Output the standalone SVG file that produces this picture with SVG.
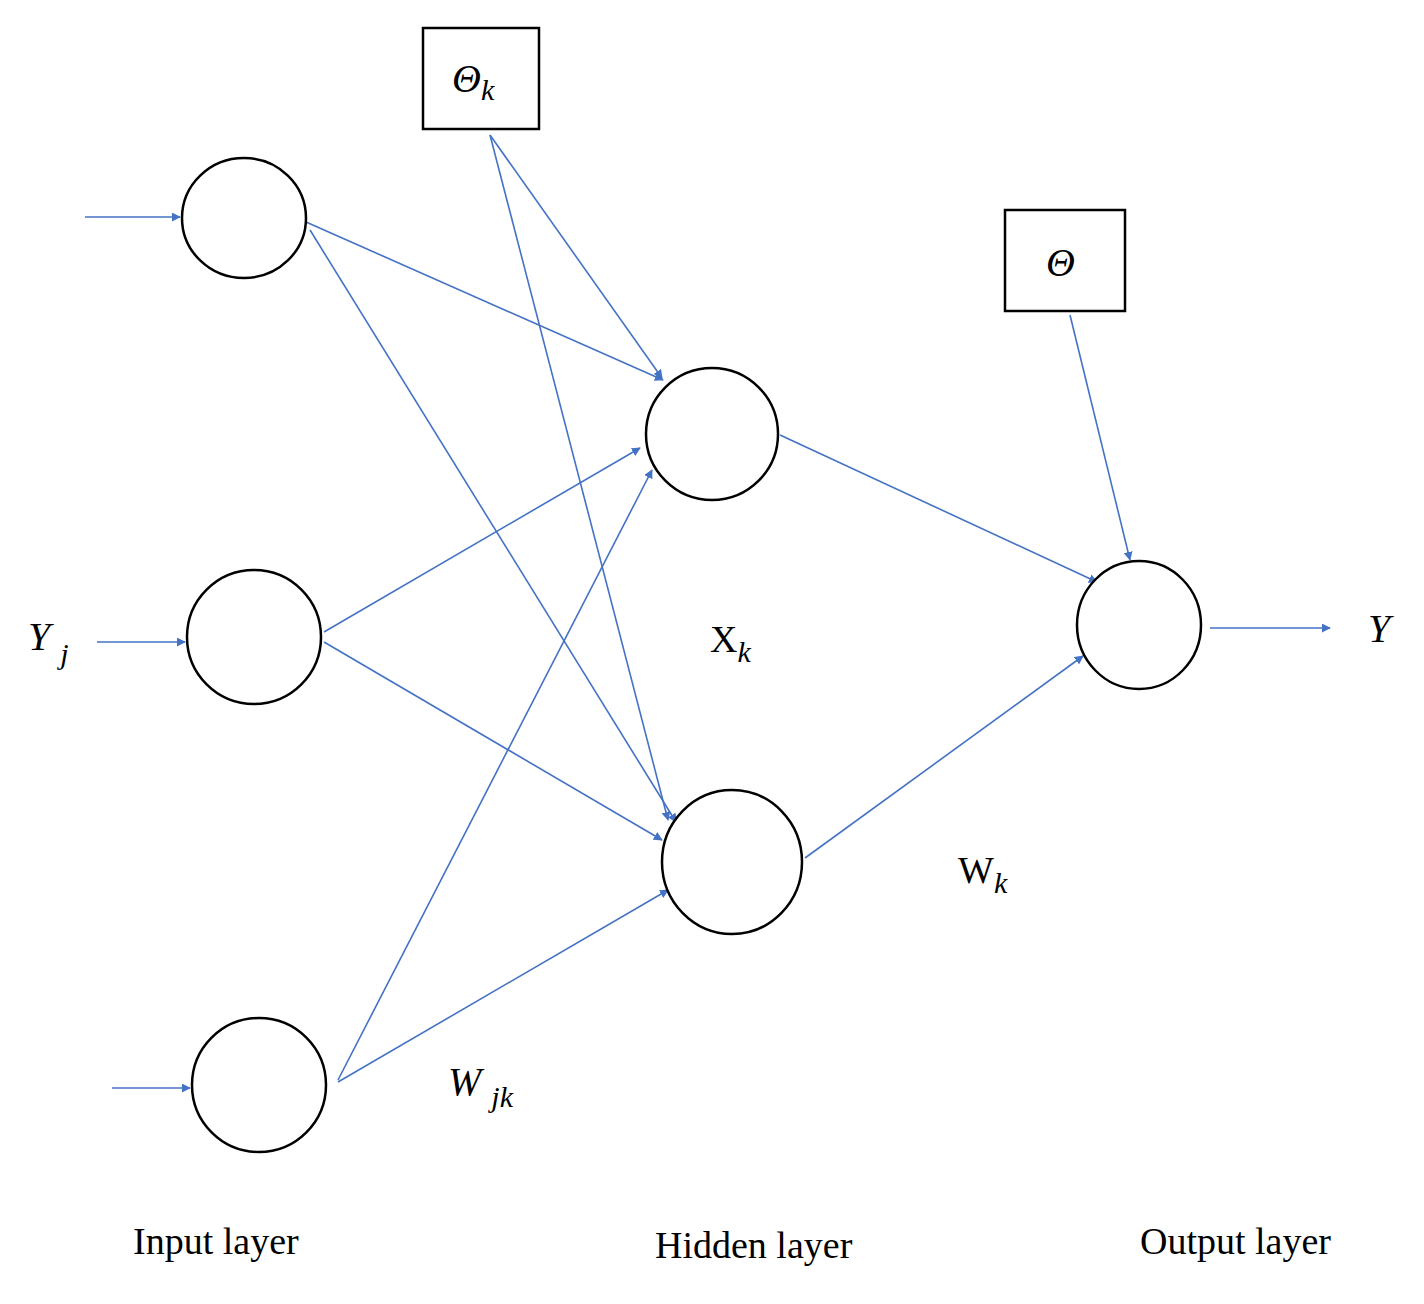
<svg xmlns="http://www.w3.org/2000/svg" width="1424" height="1304" viewBox="0 0 1424 1304">
<defs>
<marker id="a" viewBox="0 0 10 10" refX="9" refY="5" markerWidth="9" markerHeight="9" markerUnits="userSpaceOnUse" orient="auto"><path d="M0,0L10,5L0,10z" fill="#4472c4"/></marker>
<style>
.n{fill:#fff;stroke:#000;stroke-width:2.5}
.e line{stroke:#4472c4;stroke-width:1.6;marker-end:url(#a)}
text{font-family:"Liberation Serif",serif;fill:#000}
.i{font-style:italic;font-size:40px}
.l{font-size:38px}
</style>
</defs>
<rect width="1424" height="1304" fill="#fff"/>
<g class="e" id="connectors">
<line x1="85" y1="217" x2="180" y2="217"/>
<line x1="97" y1="642" x2="185" y2="642"/>
<line x1="112" y1="1088" x2="190" y2="1088"/>
<line x1="306" y1="222" x2="663" y2="380"/>
<line x1="310" y1="230" x2="676" y2="822"/>
<line x1="324" y1="632" x2="640" y2="448"/>
<line x1="324" y1="642" x2="662" y2="840"/>
<line x1="338" y1="1080" x2="652" y2="470"/>
<line x1="338" y1="1082" x2="668" y2="890"/>
<line x1="490" y1="135" x2="662" y2="378"/>
<line x1="490" y1="135" x2="668" y2="820"/>
<line x1="780" y1="435" x2="1097" y2="582"/>
<line x1="805" y1="858" x2="1083" y2="656"/>
<line x1="1070" y1="315" x2="1130" y2="560"/>
<line x1="1210" y1="628" x2="1330" y2="628"/>
</g>
<g id="in1"><ellipse class="n" cx="244" cy="218" rx="62" ry="60"/></g>
<g id="in2"><ellipse class="n" cx="254" cy="637" rx="67" ry="67"/></g>
<g id="in3"><ellipse class="n" cx="259" cy="1085" rx="67" ry="67"/></g>
<g id="h1"><ellipse class="n" cx="712" cy="434" rx="66" ry="66"/></g>
<g id="h2"><ellipse class="n" cx="732" cy="862" rx="70" ry="72"/></g>
<g id="out"><ellipse class="n" cx="1139" cy="625" rx="62" ry="64"/></g>
<g id="thetak"><rect class="n" x="423" y="28" width="116" height="101"/><text x="452" y="92" class="i">Θ<tspan font-size="30" dy="8">k</tspan></text></g>
<g id="theta"><rect class="n" x="1005" y="210" width="120" height="101"/><text x="1046" y="276" class="i" font-size="36">Θ</text></g>
<text x="28" y="650" class="i">Y <tspan font-size="30" dy="14">j</tspan></text>
<text x="1368" y="642" class="i">Y</text>
<text x="710" y="652" class="l">X<tspan font-size="30" dy="10" font-style="italic">k</tspan></text>
<text x="958" y="883" class="l">W<tspan font-size="30" dy="10" font-style="italic">k</tspan></text>
<text x="448" y="1095" class="i">W <tspan font-size="30" dy="12">jk</tspan></text>
<text x="133" y="1254" class="l">Input layer</text>
<text x="655" y="1258" class="l">Hidden layer</text>
<text x="1140" y="1254" class="l">Output layer</text>
</svg>
